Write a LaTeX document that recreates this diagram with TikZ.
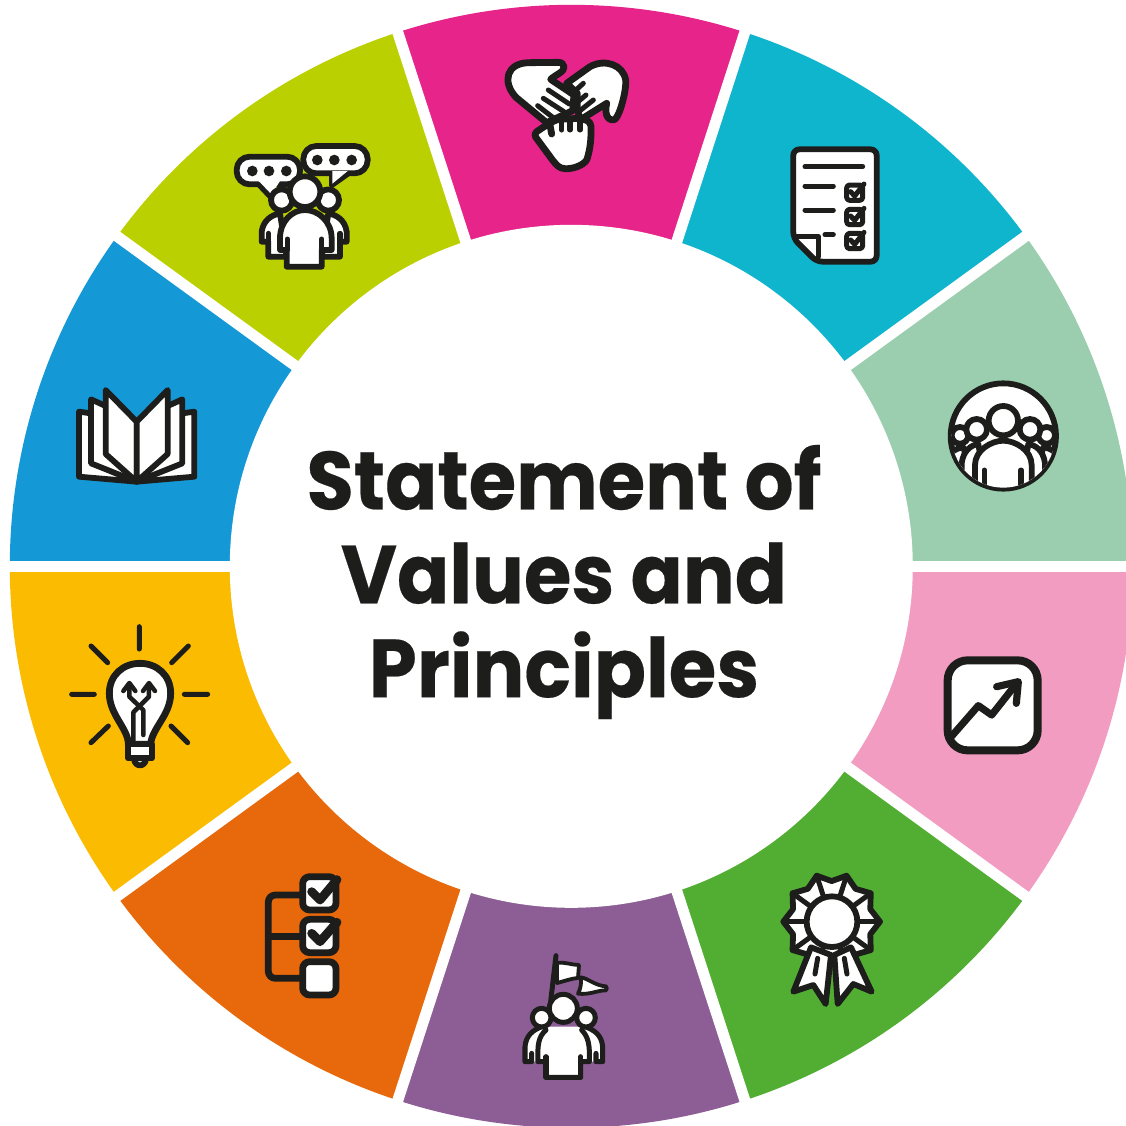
\documentclass[tikz,border=0pt]{standalone}
\usepackage{fontspec}
\usetikzlibrary{calc}
\setmainfont{Poppins}[FakeStretch=0.936,BoldFeatures={FakeBold=0.25}]
\definecolor{ink}{HTML}{1D1D1B}
\definecolor{cMagenta}{HTML}{E6248A}
\definecolor{cCyan}{HTML}{0FB4CD}
\definecolor{cMint}{HTML}{9ACEAE}
\definecolor{cPink}{HTML}{F29CC2}
\definecolor{cGreen}{HTML}{52AE32}
\definecolor{cPurple}{HTML}{8C5E95}
\definecolor{cOrange}{HTML}{E8680C}
\definecolor{cYellow}{HTML}{FBBB00}
\definecolor{cBlue}{HTML}{1598D6}
\definecolor{cLime}{HTML}{BBD000}
\tikzset{
  ic/.style={draw=ink,fill=white,line width=0.058cm,line join=round,line cap=round},
  ln/.style={draw=ink,line width=0.05cm,line join=round,line cap=round},
  thick6/.style={line width=0.068cm},
  iconat/.style={shift={#1},scale=1/3},
}
\begin{document}
\begin{tikzpicture}[x=0.01cm,y=-0.01cm]
\useasboundingbox (0,0) rectangle (1126,1126);
\clip (0,0) rectangle (1126,1126);
\fill[white] (0,0) rectangle (1126,1126);
% ring
\begin{scope}[shift={(571.3,566.3)},y=0.01cm]
  \foreach \a/\c in {72/cMagenta,36/cCyan,0/cMint,-36/cPink,-72/cGreen,-108/cPurple,-144/cOrange,-180/cYellow,-216/cBlue,-252/cLime}{
    \fill[\c] (0,0) -- (\a:561.5) arc[start angle=\a,end angle=\a+36,radius=561.5] -- cycle;
  }
  \foreach \a in {0,36,...,324}{
    \draw[white,line width=0.11cm] (0,0) -- (\a:570);
  }
  \fill[white] (0,0) circle[radius=341.5];
\end{scope}
% centre text
\node[font=\fontsize{23.4pt}{26.7pt}\selectfont\bfseries,text=ink,align=center,inner sep=0pt] (title) at (564,582)
  {Statement of\\Values and\\Principles};

% hands
\begin{scope}[iconat={(490,40)}]
  \path[ic,thick6,rounded corners=0.04cm] (130,282) -- (165,258) -- (200,238) -- (270,235) -- (302,245) .. controls (305,300) and (298,330) .. (295,345) .. controls (285,378) and (225,398) .. (195,370) -- cycle;
  \path[ic,thick6] (230,130) -- (300,80) .. controls (345,55) and (400,75) .. (407,120) .. controls (410,150) and (390,225) .. (375,238) .. controls (355,245) and (342,225) .. (350,190) -- (270,240) -- (262,205) -- (262,160) -- cycle;
  \path[ic,thick6] (205,67) -- (115,68) .. controls (50,70) and (35,125) .. (78,172) -- (170,248) -- (248,212) -- (252,165) -- (182,118) .. controls (195,105) and (225,95) .. (222,80) .. controls (220,72) and (215,67) .. (205,67) -- cycle;
  \draw[ln] (175,150) -- (238,192) (160,175) -- (222,215) (143,197) -- (195,237) (310,180) -- (270,212) (288,165) -- (258,190) (280,130) -- (258,150);
  \draw[ln,thick6] (180,255) -- (185,282);
  \foreach \xx in {215,240,270}{\draw[ln] (\xx,245) -- (\xx,270);}
\end{scope}

% checklist document
\begin{scope}[iconat={(780,140)}]
  \path[ic,rounded corners=0.06cm] (40,28) -- (290,28) -- (290,365) -- (110,365) -- (40,295) -- cycle;
  \draw[ln] (50,290) -- (115,290) -- (115,350);
  \draw[ln] (75,80) -- (248,80) (75,138) -- (160,138) (75,210) -- (160,210) (135,284) -- (160,284);
  \foreach \yy in {135,208,280}{
    \draw[ln,rounded corners=0.03cm] (200,\yy) rectangle +(48,46);
    \draw[ln] (212,\yy+20) -- (224,\yy+33) -- (252,\yy-3);
  }
\end{scope}

% group in circle
\begin{scope}[iconat={(935,370)}]
  \path[ic] (205,198) circle[radius=158];
  \begin{scope}
    \clip (205,198) circle[radius=155];
    \path[ic] (30,360) -- (30,290) .. controls (35,250) and (60,235) .. (85,232) -- (120,360) -- cycle;
    \path[ic] (380,360) -- (380,290) .. controls (375,250) and (350,235) .. (325,232) -- (290,360) -- cycle;
    \path[ic] (75,196) circle[radius=25];
    \path[ic] (335,196) circle[radius=25];
    \path[ic] (80,340) -- (80,280) .. controls (85,240) and (110,225) .. (130,222) -- (150,340) -- cycle;
    \path[ic] (330,340) -- (330,280) .. controls (325,240) and (300,225) .. (280,222) -- (260,340) -- cycle;
    \path[ic] (125,178) circle[radius=31];
    \path[ic] (285,178) circle[radius=31];
    \path[ic] (120,370) -- (120,285) .. controls (120,240) and (170,212) .. (205,212) .. controls (240,212) and (290,240) .. (290,285) -- (290,370) -- cycle;
    \path[ic] (205,152) circle[radius=44];
    \draw[ln] (148,300) -- (148,350) (258,300) -- (258,350);
  \end{scope}
\end{scope}

% chart
\begin{scope}[iconat={(935,645)}]
  \path[ic,line width=0.08cm,rounded corners=0.2cm] (38,46) rectangle (308,316);
  \begin{scope}
    \clip[rounded corners=0.2cm] (38,46) rectangle (308,316);
    \draw[ln,line width=0.072cm] (40,285) -- (130,182) -- (170,210) -- (245,115);
  \end{scope}
  \draw[ln,line width=0.072cm] (185,125) -- (250,110) -- (244,175);
\end{scope}

% rosette
\begin{scope}[iconat={(775,860)}]
  \path[ic] (315,185)
    \foreach \k in {1,...,10}{ -- ($(170,185)+({145*cos(36*\k-18)*0.84},{-145*sin(36*\k-18)*0.84})$) -- ($(170,185)+({145*cos(36*\k)},{-145*sin(36*\k)})$)} -- cycle;
  \foreach \k in {1,...,10}{\draw[ln] (170,185) -- ($(170,185)+({145*cos(36*\k)},{-145*sin(36*\k)})$);}
  \path[ic] (108,262) -- (55,395) -- (115,375) -- (152,432) -- (168,285) -- cycle;
  \path[ic] (228,262) -- (290,395) -- (235,372) -- (188,432) -- (178,285) -- cycle;
  \draw[ln] (120,342) -- (128,295) (216,342) -- (208,295);
  \path[ic] (171,185) circle[radius=76];
\end{scope}

% flag group
\begin{scope}[iconat={(510,945)}]
  \path[ic,line width=0.038cm] (141,54) .. controls (165,50) and (185,60) .. (207,60) -- (204,99) .. controls (185,100) and (165,108) .. (141,114) -- cycle;
  \path[ic,line width=0.038cm] (212,97) .. controls (235,100) and (255,122) .. (288,124) .. controls (290,128) and (292,132) .. (288,136) .. controls (265,135) and (240,150) .. (204,146) .. controls (212,130) and (215,115) .. (212,97) -- cycle;
  \draw[ln] (138,32) -- (122,170);
  \fill[white] (45,350) -- (45,305) .. controls (48,270) and (70,255) .. (95,245) -- (225,245) .. controls (253,255) and (275,270) .. (278,305) -- (278,350) -- (212,350) -- (212,397) -- (108,397) -- (108,350) -- cycle;
  \draw[ln] (95,245) .. controls (70,255) and (48,270) .. (45,305) -- (45,350) -- (65,350) (65,350) -- (65,325);
  \draw[ln] (225,245) .. controls (253,255) and (275,270) .. (278,305) -- (278,350) -- (258,350) (258,350) -- (258,325);
  \draw[ln] (108,255) .. controls (85,275) and (82,300) .. (84,350) -- (108,350) -- (108,397) -- (212,397) -- (212,350) -- (238,350) .. controls (240,300) and (235,275) .. (215,255);
  \draw[ln] (108,335) -- (108,397) (212,335) -- (212,397);
  \path[ic,line width=0.05cm] (95,218) circle[radius=28];
  \path[ic,line width=0.05cm] (228,218) circle[radius=28];
  \path[ic,line width=0.05cm] (160,190) circle[radius=42];
\end{scope}

% tick list
\begin{scope}[iconat={(255,865)}]
  \draw[ln,thick6,rounded corners=0.07cm] (143,90) -- (40,90) -- (40,340) -- (143,340);
  \draw[ln,thick6] (40,215) -- (143,215);
  \foreach \yy in {35,163,290}{
    \path[ic,thick6,rounded corners=0.07cm] (143,\yy) rectangle +(100,100);
  }
  \draw[ln,line width=0.088cm] (170,80) -- (195,105) -- (246,44);
  \draw[ln,line width=0.088cm] (170,205) -- (195,230) -- (246,172);
\end{scope}

% bulb
\begin{scope}[iconat={(60,615)}]
  \draw[ln] (238,35) -- (238,102) (93,93) -- (143,143) (385,93) -- (335,143) (35,238) -- (103,238) (373,238) -- (443,238) (145,333) -- (93,383) (333,333) -- (383,383);
  \path[ic,thick6] (205,388) .. controls (205,340) and (148,300) .. (148,235) .. controls (148,180) and (190,145) .. (240,145) .. controls (290,145) and (332,180) .. (332,235) .. controls (332,300) and (275,340) .. (272,388) -- cycle;
  \draw[ln,line width=0.045cm] (208,206) -- (208,245) -- (250,285) -- (250,360);
  \draw[ln,line width=0.045cm] (267,206) -- (267,245) -- (220,292) -- (220,388);
  \draw[ln,line width=0.045cm] (190,228) -- (208,204) -- (226,228) (249,228) -- (267,204) -- (285,228);
  \path[ic] (222,430) .. controls (222,458) and (258,458) .. (258,430) -- cycle;
  \path[ic] (205,388) rectangle (275,430);
\end{scope}

% book
\begin{scope}[iconat={(65,380)}]
  \foreach \sx/\ox in {1/0,-1/430}{
    \begin{scope}[xshift=\ox*0.01cm,xscale=\sx]
      \path[ic] (42,95) -- (78,100) -- (215,305) -- (42,290) -- cycle;
      \path[ic] (78,58) -- (122,78) -- (215,305) -- (78,250) -- cycle;
      \path[ic] (122,30) -- (215,125) -- (215,305) -- (122,222) -- cycle;
    \end{scope}
  }
\end{scope}

% speech group
\begin{scope}[iconat={(225,135)}]
  \path[ic,rounded corners=0.13cm] (35,65) rectangle (225,148);
  \path[ic,rounded corners=0.13cm] (235,33) rectangle (428,115);
  \path[fill=white] (100,138) -- (135,185) -- (165,138) -- cycle;
  \draw[ln] (100,148) -- (135,185) (320,115) -- (320,152) -- (372,115);
  \path[fill=white] (322,108) -- (322,146) -- (368,108) -- cycle;
  \foreach \xx in {82,132,184}{\fill[ink] (\xx,108) circle[radius=16];}
  \foreach \xx in {277,328,380}{\fill[ink] (\xx,75) circle[radius=16];}
  \path[ic] (110,320) -- (110,290) .. controls (115,255) and (140,240) .. (165,235) -- (185,365) -- (130,365) -- (130,320) -- cycle;
  \path[ic] (365,320) -- (365,290) .. controls (360,255) and (335,240) .. (310,235) -- (290,365) -- (345,365) -- (345,320) -- cycle;
  \draw[ln] (130,320) -- (130,295) (345,320) -- (345,295);
  \path[ic] (170,195) circle[radius=32];
  \path[ic] (310,195) circle[radius=32];
  \path[ic] (185,395) -- (290,395) -- (290,345) -- (320,345) -- (320,310) .. controls (320,260) and (280,225) .. (240,225) .. controls (200,225) and (165,260) .. (165,310) -- (165,345) -- (185,345) -- cycle;
  \draw[ln] (187,345) -- (187,312) (290,345) -- (290,312);
  \path[ic] (240,170) circle[radius=46];
\end{scope}
\end{tikzpicture}
\end{document}
